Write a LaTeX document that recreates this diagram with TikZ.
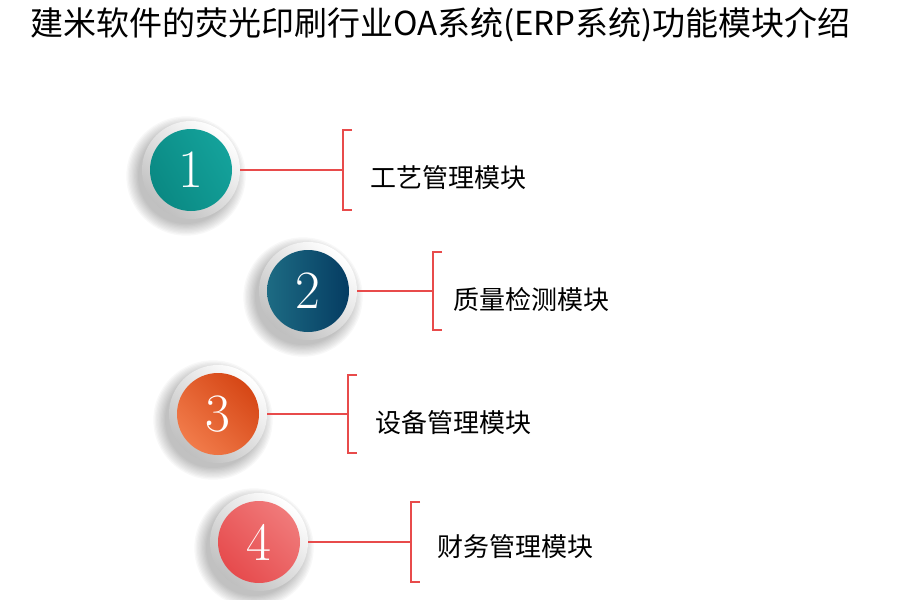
\documentclass[tikz,border=0pt]{standalone}
\usepackage{fontspec}
\newfontfamily\cjk{Noto Sans CJK SC}
\usetikzlibrary{calc,positioning}
\definecolor{lnred}{HTML}{E84B4B}
\definecolor{tealA}{HTML}{14A29B}
\definecolor{tealB}{HTML}{0A8983}
\definecolor{navyA}{HTML}{1D6B83}
\definecolor{navyB}{HTML}{053C62}
\definecolor{orgA}{HTML}{F17B4A}
\definecolor{orgB}{HTML}{D64716}
\definecolor{pinkA}{HTML}{E64B4D}
\definecolor{pinkB}{HTML}{F07A7A}

\begin{document}
\begin{tikzpicture}[x=1pt, y=-1pt]
        \tikzset{
          ring/.style ={circle, minimum size=98pt, inner sep=0pt, shading=axis, top color=white, bottom color=black!25, shading angle=-40},
          ball/.style ={circle, minimum size=82pt, inner sep=0pt, text=white, font=\fontsize{54}{54}\selectfont, shading=axis},
          lbl/.style  ={anchor=west, inner sep=0pt, font=\cjk\fontsize{26}{30}\selectfont},
          link/.style ={draw=lnred, line width=1.3pt},
          brk/.style  ={draw=lnred, line width=1.6pt},
          softshade/.pic={
            \foreach \k in {0,...,9}
              \fill[black, opacity=0.028] (-5,6) circle[radius=48+\k*1.3];
          }
        }
        \useasboundingbox (0,0) rectangle (900,600);
        \node[anchor=west, inner sep=0pt, font=\cjk\fontsize{33}{36}\selectfont] (title) at (30,25) {建米软件的荧光印刷行业OA系统(ERP系统)功能模块介绍};
        %% --- 1 ---
        \pic at (191,170) {softshade};
        \node[ring] (r1) at (191,170) {};
        \node[ball, left color=tealA, right color=tealB, shading angle=-60] (n1) at (191,170) {1};
        \coordinate (k1) at (343,170);
        \draw[link] (r1.east) -- (k1);
        \draw[brk] ($(k1)+(9,-40)$) -- ++(-9,0) -- ++(0,80) -- ++(9,0);
        \node[lbl] (t1) at (370,178) {工艺管理模块};
        %% --- 2 ---
        \pic at (308,291) {softshade};
        \node[ring] (r2) at (308,291) {};
        \node[ball, left color=navyA, right color=navyB] (n2) at (308,291) {2};
        \coordinate (k2) at (433,291);
        \draw[link] (r2.east) -- (k2);
        \draw[brk] ($(k2)+(9,-39)$) -- ++(-9,0) -- ++(0,78) -- ++(9,0);
        \node[lbl] (t2) at (453,300) {质量检测模块};
        %% --- 3 ---
        \pic at (218,414) {softshade};
        \node[ring] (r3) at (218,414) {};
        \node[ball, left color=orgA, right color=orgB, shading angle=135] (n3) at (218,414) {3};
        \coordinate (k3) at (348,414);
        \draw[link] (r3.east) -- (k3);
        \draw[brk] ($(k3)+(9,-39)$) -- ++(-9,0) -- ++(0,78) -- ++(9,0);
        \node[lbl] (t3) at (375,423) {设备管理模块};
        %% --- 4 ---
        \pic at (259,542) {softshade};
        \node[ring] (r4) at (259,542) {};
        \node[ball, left color=pinkA, right color=pinkB, shading angle=135] (n4) at (259,542) {4};
        \coordinate (k4) at (411,542);
        \draw[link] (r4.east) -- (k4);
        \draw[brk] ($(k4)+(9,-40)$) -- ++(-9,0) -- ++(0,80) -- ++(9,0);
        \node[lbl] (t4) at (437,547) {财务管理模块};
    \end{tikzpicture}
\end{document}
